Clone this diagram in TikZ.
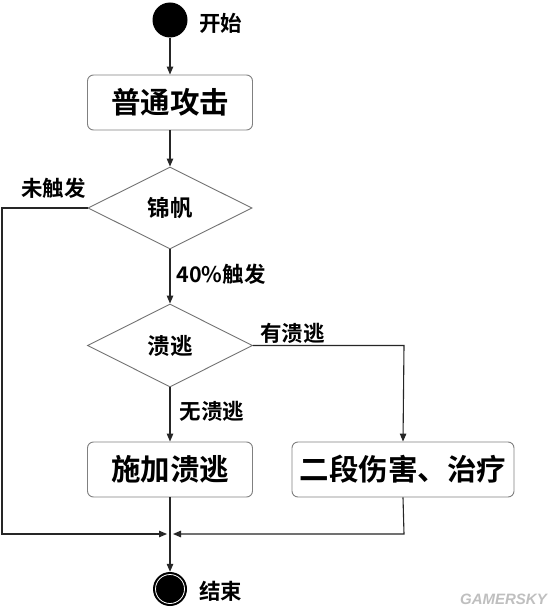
\documentclass[tikz,border=0pt]{standalone}
\usepackage{fontspec}
\newfontfamily\cjk{Noto Sans CJK SC Bold}
\newfontfamily\wm{Liberation Sans}[BoldItalicFont={Liberation Sans Bold Italic}]
\usetikzlibrary{shapes.geometric,arrows.meta}
\begin{document}
\begin{tikzpicture}[x=1pt,y=-1pt,
  line/.style={draw=black!85,line width=1.1pt},
  arr/.style={line,-{Triangle[length=8pt,width=6.5pt]}},
  actbox/.style={draw=black!50,line width=0.9pt,rounded corners=6pt,minimum width=165pt,minimum height=55pt,inner sep=0pt,font=\cjk\fontsize{29.5}{31}\selectfont},
  decision/.style={diamond,draw=black!55,line width=0.9pt,minimum width=165pt,minimum height=82pt,inner sep=0pt,aspect=2,font=\cjk\fontsize{22.5}{24}\selectfont},
  lbl/.style={font=\cjk\fontsize{21.5}{23}\selectfont,inner sep=0pt}]
\useasboundingbox (0,0) rectangle (550,615);
\fill[white] (0,0) rectangle (550,615);
% start
\node[circle,fill=black,minimum size=35pt,inner sep=0pt] (start) at (170,20) {};
\node[lbl,anchor=west] (startl) at (199,23) {开始};
% normal attack
\node[actbox] (atk) at (170,102.5) {普通攻击};
% decision 1
\node[decision,minimum width=164pt,minimum height=82pt] (jf) at (170,208) {锦帆};
% decision 2
\node[decision,minimum width=165pt,minimum height=83pt] (kt) at (170,345.5) {溃逃};
% boxes
\node[actbox] (apply) at (170,469.5) {施加溃逃};
\node[actbox,minimum width=222pt] (dmg) at (403,469.5) {二段伤害、治疗};
% end
\node[circle,fill=black,minimum size=34pt,inner sep=0pt] (end) at (170,589) {};
\draw[white,line width=0.8pt] (end.center) circle (14.5pt);
\node[lbl,anchor=west] (endl) at (199,591) {结束};
% coordinates
\coordinate (lt) at (2,208);
\coordinate (lb) at (2,534);
\coordinate (rt) at (404,345.5);
\coordinate (rb) at (404,534);
\coordinate (jl) at (167,534);
\coordinate (jr) at (173,534);
% connectors
\draw[arr] (start) -- (atk);
\draw[arr] (atk) -- (jf);
\draw[arr] (jf) -- (kt) node[lbl,pos=0.45,anchor=west,xshift=6pt] {40\%触发};
\draw[arr] (kt) -- (apply) node[lbl,pos=0.45,anchor=west,xshift=9pt] {无溃逃};
\draw[arr] (kt.east) -- (rt) -- (dmg.north);
\node[lbl,anchor=south west] (yes) at (260,344) {有溃逃};
\node[lbl,anchor=south west] (no) at (21,199) {未触发};
\draw[arr] (jf.west) -- (lt) -- (lb) -- (jl);
\draw[arr] (dmg.south) -- (rb) -- (jr);
\draw[arr] (apply) -- (end);
% watermark
\node[font=\wm\bfseries\itshape\fontsize{15}{15}\selectfont,text=black!25,anchor=east,inner sep=0pt] (wmk) at (547,599) {GAMERSKY};
\end{tikzpicture}
\end{document}
